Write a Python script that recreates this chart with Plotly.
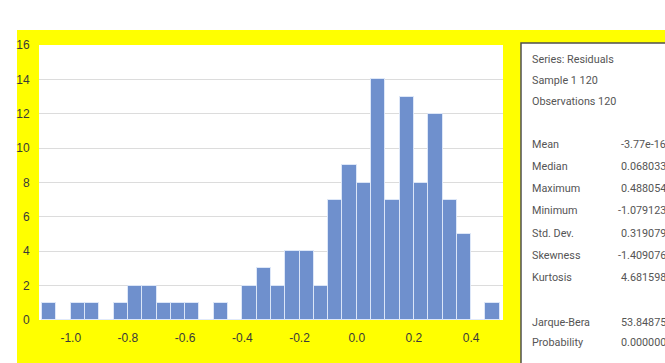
import plotly.graph_objects as go

# Histogram of regression residuals (bin width 0.05)
bin_centers = [-1.075, -1.025, -0.975, -0.925, -0.875, -0.825, -0.775, -0.725,
               -0.675, -0.625, -0.575, -0.525, -0.475, -0.425, -0.375, -0.325,
               -0.275, -0.225, -0.175, -0.125, -0.075, -0.025, 0.025, 0.075,
               0.125, 0.175, 0.225, 0.275, 0.325, 0.375, 0.425, 0.475]
counts = [1, 0, 1, 1, 0, 1, 2, 2,
          1, 1, 1, 0, 1, 0, 2, 3,
          2, 4, 4, 2, 7, 9, 8, 14,
          7, 13, 8, 12, 7, 5, 0, 1]
bin_width = 0.05

x_tick_vals = [-1.0, -0.8, -0.6, -0.4, -0.2, 0.0, 0.2, 0.4]
x_tick_text = ["-1.0", "-0.8", "-0.6", "-0.4", "-0.2", "0.0", "0.2", "0.4"]
y_tick_vals = [0, 2, 4, 6, 8, 10, 12, 14, 16]

# Descriptive statistics panel
header_lines = ["Series: Residuals", "Sample 1 120", "Observations 120"]
stat_names = ["Mean", "Median", "Maximum", "Minimum", "Std. Dev.",
              "Skewness", "Kurtosis", "Jarque-Bera", "Probability"]
stat_values = ["-3.77e-16", "0.068033", "0.488054", "-1.079123", "0.319079",
               "-1.409076", "4.681598", "53.84875", "0.000000"]

W, H = 665, 363
L, R, T, B = 39, 503, 45, 320   # plot area in pixels


def px(x):
    return (x - L) / (R - L)


def py(y):
    return (B - y) / (B - T)


fig = go.Figure()
fig.add_trace(go.Bar(
    x=bin_centers, y=counts, width=bin_width,
    marker=dict(color="rgb(111,144,205)",
                line=dict(color="rgba(225,234,250,0.9)", width=1)),
    hoverinfo="x+y",
))

shapes = [
    # yellow frame
    dict(type="rect", xref="paper", yref="paper", layer="below",
         x0=px(17), x1=px(720), y0=py(420), y1=py(30),
         fillcolor="#ffff00", line=dict(width=0)),
    # white plotting area
    dict(type="rect", xref="paper", yref="paper", layer="below",
         x0=0, x1=1, y0=0, y1=1,
         fillcolor="white", line=dict(width=0)),
    # statistics box
    dict(type="rect", xref="paper", yref="paper", layer="below",
         x0=px(521), x1=px(720), y0=py(420), y1=py(43),
         fillcolor="white", line=dict(color="#505050", width=1.5)),
]

annotations = []
txt_font = dict(family="Roboto", size=10.8, color="#555555")
header_y = [59, 80, 101]
for t, yy in zip(header_lines, header_y):
    annotations.append(dict(xref="paper", yref="paper", x=px(530), y=py(yy),
                            text=t, showarrow=False, xanchor="left",
                            yanchor="middle", font=txt_font))
stat_y = [144, 166, 188, 210, 233, 255, 277, 322, 342]
for name, val, yy in zip(stat_names, stat_values, stat_y):
    annotations.append(dict(xref="paper", yref="paper", x=px(530), y=py(yy),
                            text=name, showarrow=False, xanchor="left",
                            yanchor="middle", font=txt_font))
    annotations.append(dict(xref="paper", yref="paper", x=px(668), y=py(yy),
                            text=val, showarrow=False, xanchor="right",
                            yanchor="middle", font=txt_font))

tick_font = dict(family="Liberation Sans", size=12, color="#3a3a3a")
fig.update_layout(
    width=W, height=H,
    margin=dict(l=L, r=W - R, t=T, b=H - B, pad=0),
    paper_bgcolor="white", plot_bgcolor="white",
    showlegend=False, bargap=0,
    shapes=shapes, annotations=annotations,
    xaxis=dict(range=[-1.111, 0.5115], tickvals=x_tick_vals,
               ticktext=x_tick_text, showgrid=False, zeroline=False,
               showline=False, ticks="outside", ticklen=7,
               tickcolor="rgba(0,0,0,0)", tickfont=tick_font),
    yaxis=dict(range=[0, 16], tickvals=y_tick_vals, showgrid=True,
               gridcolor="#dcdcdc", gridwidth=1, zeroline=False,
               showline=False, ticks="outside", ticklen=6,
               tickcolor="rgba(0,0,0,0)", tickfont=tick_font),
)

fig.write_html("out.html")
